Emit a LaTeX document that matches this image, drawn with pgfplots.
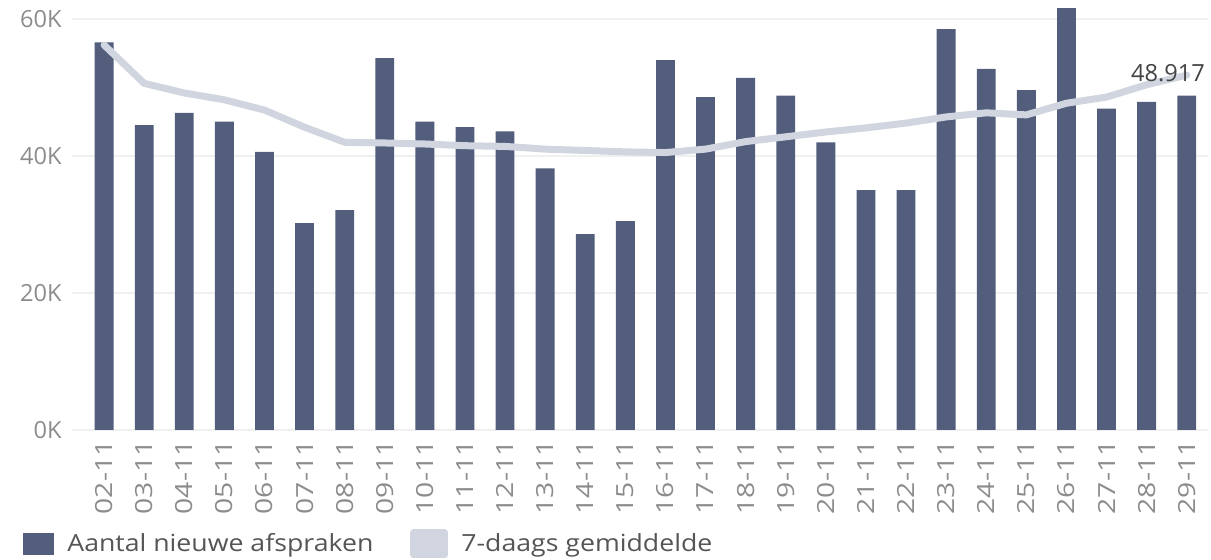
\documentclass[border=0pt]{standalone}
\usepackage{fontspec}
\setmainfont{Open Sans}
\newfontfamily\legfont[FakeStretch=1.13]{Open Sans}
\newfontfamily\xfont[FakeStretch=1.2]{Open Sans}
\usepackage{pgfplots}
\pgfplotsset{compat=1.18}
\definecolor{barblue}{RGB}{82,94,124}
\definecolor{avggrey}{RGB}{208,213,224}
\definecolor{ticktext}{RGB}{140,140,140}
\definecolor{legtext}{RGB}{85,85,85}
\definecolor{lbltext}{RGB}{68,68,68}
\newcommand{\chartfont}{\fontsize{11.8}{14}\selectfont}

\begin{document}
\begin{tikzpicture}
\useasboundingbox (-36pt,-65pt) rectangle (569.5pt,215pt);
\begin{axis}[
    scale only axis, width=568pt, height=215pt,
    xmin=-0.8, xmax=27.53, ymin=0, ymax=62770,
    axis line style={draw=none}, tick style={draw=none},
    major tick length=0pt,
    scaled y ticks=false,
    ytick={0,20000,40000,60000}, yticklabels={0K,20K,40K,60K},
    yticklabel style={font=\chartfont, text=ticktext, inner sep=0pt},
    yticklabel shift=5pt,
    xtick={0,...,27},
    xticklabels={02-11,03-11,04-11,05-11,06-11,07-11,08-11,09-11,10-11,11-11,12-11,13-11,14-11,15-11,
                 16-11,17-11,18-11,19-11,20-11,21-11,22-11,23-11,24-11,25-11,26-11,27-11,28-11,29-11},
    xticklabel style={rotate=90, anchor=east, font=\xfont\chartfont, text=ticktext, inner sep=0pt},
    xticklabel shift=5pt,
    ymajorgrids, grid style={gray!12, line width=0.6pt},
    legend columns=2,
    legend style={at={([xshift=-24.5pt,yshift=-57pt]axis description cs:0,0)}, anchor=west,
        draw=none, fill=none, inner sep=0pt, column sep=0pt,
        nodes={inner sep=0pt, text=legtext, font=\legfont\chartfont}},
]
\addplot[ybar, bar width=0.47, fill=barblue, draw=none,
    legend image code/.code={\fill[barblue] (0pt,-5.5pt) rectangle (15.5pt,5.5pt);}]
    coordinates {
    (0,56600) (1,44500) (2,46300) (3,45000) (4,40600) (5,30200) (6,32100)
    (7,54300) (8,45000) (9,44200) (10,43600) (11,38200) (12,28600) (13,30500)
    (14,54000) (15,48600) (16,51400) (17,48800) (18,42000) (19,35000) (20,35000)
    (21,58500) (22,52700) (23,49600) (24,61600) (25,46900) (26,47900) (27,48800)};
\addlegendentry{\hspace{6.5pt}\makebox[171.5pt][l]{Aantal nieuwe afspraken}}
\addplot[draw=avggrey, line width=3.5pt, line join=round, line cap=round,
    legend image code/.code={\fill[avggrey] (0pt,-5.5pt) rectangle (15.5pt,5.5pt);}]
    coordinates {
    (0,56200) (1,50600) (2,49200) (3,48200) (4,46700) (5,44200) (6,42000)
    (7,41900) (8,41750) (9,41500) (10,41400) (11,41000) (12,40800) (13,40600)
    (14,40500) (15,41000) (16,42100) (17,42800) (18,43500) (19,44100) (20,44800)
    (21,45700) (22,46300) (23,46000) (24,47700) (25,48600) (26,50400) (27,51800)};
\addlegendentry{\hspace{6.5pt}7-daags gemiddelde}
\node[anchor=base east, inner sep=0pt, font=\chartfont, text=lbltext] at (axis cs:27.46,50800) {48.917};
\end{axis}
\end{tikzpicture}
\end{document}
